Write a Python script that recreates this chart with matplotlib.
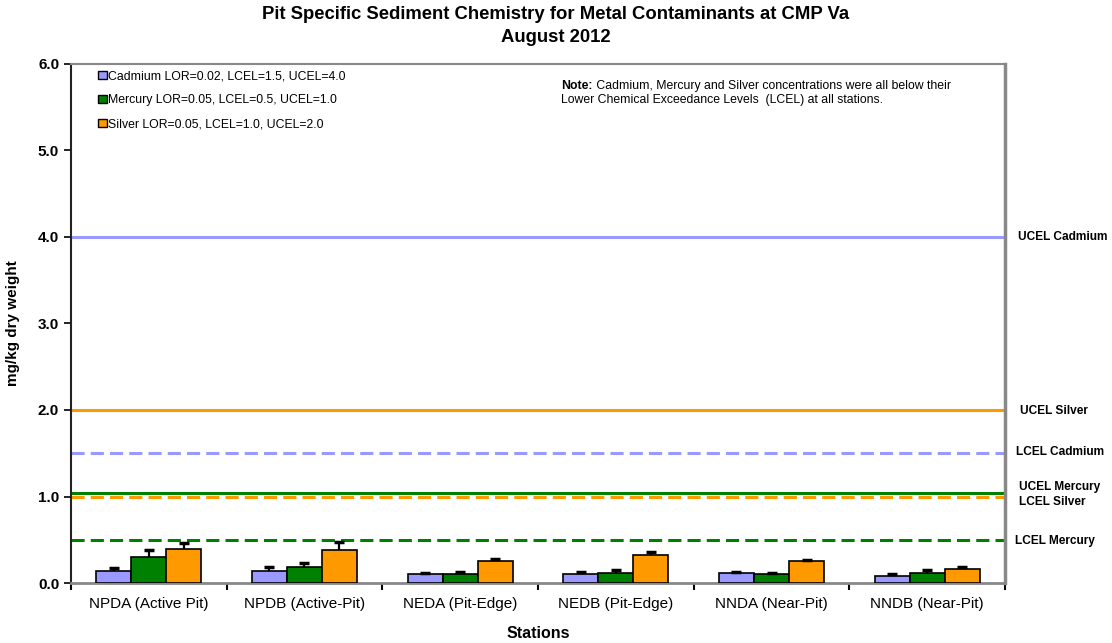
import matplotlib
matplotlib.use("Agg")
import matplotlib.pyplot as plt
import numpy as np

plt.rcParams['font.family'] = ['Liberation Sans', 'DejaVu Sans']

stations = ["NPDA (Active Pit)", "NPDB (Active-Pit)", "NEDA (Pit-Edge)",
            "NEDB (Pit-Edge)", "NNDA (Near-Pit)", "NNDB (Near-Pit)"]

cadmium = [0.14, 0.14, 0.105, 0.105, 0.12, 0.08]
cadmium_err = [0.03, 0.05, 0.01, 0.02, 0.01, 0.02]
mercury = [0.30, 0.19, 0.105, 0.12, 0.10, 0.12]
mercury_err = [0.08, 0.04, 0.02, 0.03, 0.02, 0.025]
silver = [0.395, 0.38, 0.25, 0.32, 0.255, 0.16]
silver_err = [0.065, 0.09, 0.025, 0.035, 0.01, 0.02]

series_labels = ["Cadmium LOR=0.02, LCEL=1.5, UCEL=4.0",
                 "Mercury LOR=0.05, LCEL=0.5, UCEL=1.0",
                 "Silver LOR=0.05, LCEL=1.0, UCEL=2.0"]

cd_lcel, cd_ucel = 1.5, 4.0
hg_lcel, hg_ucel = 0.5, 1.0
ag_lcel, ag_ucel = 1.0, 2.0

y_ticks = [0.0, 1.0, 2.0, 3.0, 4.0, 5.0, 6.0]

c_cd = "#9999FF"
c_hg = "#008000"
c_ag = "#FF9900"

fig = plt.figure(figsize=(11.12, 6.43), dpi=100)
ax = fig.add_axes([0.0638, 0.0933, 0.8400, 0.8072])

x = np.arange(len(stations))
w = 0.225
err_kw = dict(ecolor="black", elinewidth=1.6, capsize=3.5, capthick=2.5)
for off, vals, errs, col, lab in [(-w, cadmium, cadmium_err, c_cd, series_labels[0]),
                                  (0, mercury, mercury_err, c_hg, series_labels[1]),
                                  (w, silver, silver_err, c_ag, series_labels[2])]:
    bars = ax.bar(x + off, vals, width=w, color=col, edgecolor="black", linewidth=1.2,
                  yerr=[np.zeros(len(errs)), errs], error_kw=err_kw, label=lab, zorder=3)
    # plus-only error bars: hide the cap sitting on the bar top
    caps = bars.errorbar.lines[1]
    if caps:
        caps[0].set_visible(False)

# guideline levels; the Mercury UCEL is nudged up a touch so it does not
# sit on top of the Silver LCEL line at the same level
hg_ucel_shift = 0.045
lw = 2.2
ax.axhline(cd_ucel, color=c_cd, lw=lw, zorder=2)
ax.axhline(cd_lcel, color=c_cd, lw=lw, ls=(0, (4.3, 2.0)), zorder=2)
ax.axhline(ag_ucel, color=c_ag, lw=lw, zorder=2)
ax.axhline(ag_lcel - 0.01, color=c_ag, lw=lw, ls=(0, (4.3, 2.0)), zorder=2)
ax.axhline(hg_ucel + hg_ucel_shift, color=c_hg, lw=lw, zorder=2)
ax.axhline(hg_lcel, color=c_hg, lw=lw, ls=(0, (4.3, 2.0)), zorder=2)

ax.set_xlim(-0.5, len(stations) - 0.5)
ax.set_ylim(0, 6.0)
ax.set_yticks(y_ticks)
ax.set_yticklabels([f"{t:.1f}" for t in y_ticks], fontsize=11, fontweight="bold")
ax.set_xticks(x)
ax.set_xticklabels(stations, fontsize=11)
ax.set_xticks(np.arange(-0.5, len(stations)), minor=True)
ax.tick_params(axis="x", which="major", length=0, pad=10)
ax.tick_params(axis="x", which="minor", length=5, width=1.5, direction="out", color="black")
ax.tick_params(axis="y", length=5, width=1.2, direction="out", color="black")

for side in ["top", "right", "bottom"]:
    ax.spines[side].set_color("#888888")
ax.spines["top"].set_linewidth(1.5)
ax.spines["right"].set_linewidth(2.5)
ax.spines["bottom"].set_linewidth(2.0)
ax.spines["left"].set_color("#222222")
ax.spines["left"].set_linewidth(1.5)

ax.set_xlabel("Stations", fontsize=11.5, fontweight="bold", labelpad=11)
ax.set_ylabel("mg/kg dry weight", fontsize=11, fontweight="bold", labelpad=13)
fig.suptitle("Pit Specific Sediment Chemistry for Metal Contaminants at CMP Va\nAugust 2012",
             fontsize=13.3, fontweight="bold", y=0.99, linespacing=1.4)

leg = ax.legend(loc="upper left", bbox_to_anchor=(0.02, 1.004), frameon=False,
                fontsize=8.8, handlelength=0.7, handleheight=0.7, handletextpad=0.1,
                labelspacing=0.98, borderaxespad=0.3)
for h in leg.legend_handles:
    h.set_linewidth(1.0)

# note box: bold lead-in followed by regular text
note_head = ax.text(0.525, 0.970, "Note:", transform=ax.transAxes, fontsize=8.8,
                    fontweight="bold", va="top", ha="left")
ax.annotate(" Cadmium, Mercury and Silver concentrations were all below their",
            xy=(1, 0), xycoords=note_head, fontsize=8.8, va="bottom", ha="left")
ax.annotate("Lower Chemical Exceedance Levels  (LCEL) at all stations.",
            xy=(0, 0), xycoords=note_head, xytext=(0, -2), textcoords="offset points",
            fontsize=8.8, va="top", ha="left")

# labels for the guideline levels, to the right of the plot
trans = ax.get_yaxis_transform()
for yv, xo, txt in [(cd_ucel, 1.014, "UCEL Cadmium"), (ag_ucel - 0.01, 1.016, "UCEL Silver"),
                    (cd_lcel + 0.02, 1.012, "LCEL Cadmium"), (hg_ucel + 0.11, 1.015, "UCEL Mercury"),
                    (ag_lcel - 0.06, 1.015, "LCEL Silver"), (hg_lcel - 0.02, 1.011, "LCEL Mercury")]:
    ax.text(xo, yv, txt, transform=trans, fontsize=8.6, fontweight="bold",
            va="center", ha="left", clip_on=False)

fig.savefig("out.png", dpi=100)
